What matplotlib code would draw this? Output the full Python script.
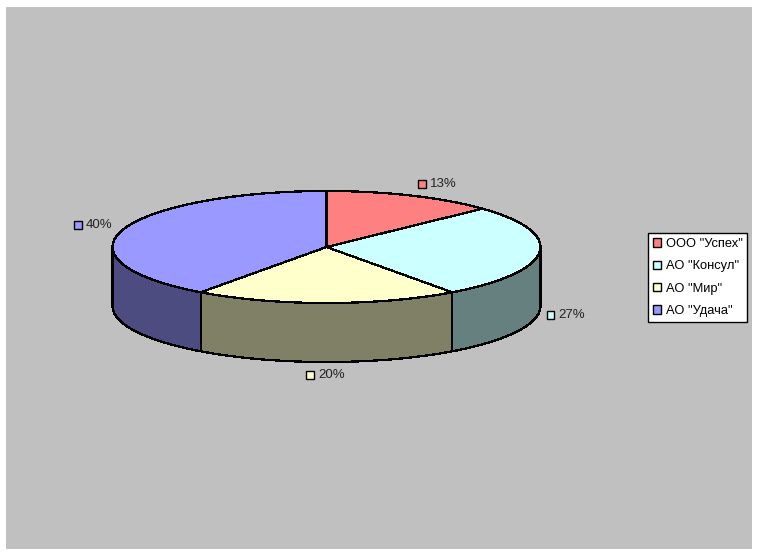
import numpy as np
import matplotlib
matplotlib.use("Agg")
import matplotlib.pyplot as plt
from matplotlib.patches import Rectangle

plt.rcParams['font.family'] = ['Liberation Sans', 'DejaVu Sans']

# Данные
names = ['ООО "Успех"', 'АО "Консул"', 'АО "Мир"', 'АО "Удача"']
percents = [13, 27, 20, 40]
top_colors = ['#FF8080', '#CCFFFF', '#FFFFCC', '#9999FF']
side_colors = ['#804040', '#668080', '#808066', '#4C4C80']

# Геометрия диска в пикселях картинки
cx, cy = 326.5, 247
rx, ry = 214, 56
depth = 59

# Подписи: положение квадратика
label_xy = [(421.5, 183.5), (550, 314.5), (309.5, 374.5), (77.5, 224.5)]


def rim(a, b):
    # a, b - углы по часовой стрелке от верха, градусы
    t = np.radians(np.linspace(a, b, 120))
    return cx + rx * np.sin(t), cy - ry * np.cos(t)


fig = plt.figure(figsize=(7.58, 5.54), dpi=100, facecolor='white')
ax = fig.add_axes([0, 0, 1, 1])
ax.set_xlim(0, 758)
ax.set_ylim(554, 0)
ax.axis('off')

ax.add_patch(Rectangle((6, 7), 746, 541.5, facecolor='#C0C0C0', edgecolor='none', zorder=0))

edges = np.cumsum([0] + percents) * 3.6

# Боковая стенка - только передняя половина
for i in range(len(percents)):
    a = max(edges[i], 90)
    b = min(edges[i + 1], 270)
    if a >= b:
        continue
    x, y = rim(a, b)
    ax.fill(np.r_[x, x[::-1]], np.r_[y, y[::-1] + depth], facecolor=side_colors[i],
            edgecolor='black', linewidth=0.9, antialiased=False, zorder=2)

# Верх диска
for i in range(len(percents)):
    x, y = rim(edges[i], edges[i + 1])
    ax.fill(np.r_[cx, x], np.r_[cy, y], facecolor=top_colors[i],
            edgecolor='black', linewidth=0.9, antialiased=False, zorder=3)

# Подписи процентов
for i in range(len(percents)):
    lx, ly = label_xy[i]
    ax.add_patch(Rectangle((lx - 3.5, ly - 3.5), 7.5, 7.5, facecolor=top_colors[i],
                           edgecolor='black', linewidth=1, zorder=4))
    ax.text(lx + 8.5, ly + 0.5, '%d%%' % percents[i], fontsize=9.5, color='#222222',
            va='center', ha='left', zorder=4)

# Легенда
handles = [Rectangle((0, 0), 1, 1, facecolor=c, edgecolor='black', linewidth=1) for c in top_colors]
leg = ax.legend(handles, names, loc='upper left', bbox_to_anchor=(648 / 758, 1 - 233 / 554),
                bbox_transform=fig.transFigure, borderaxespad=0, fontsize=9.3, fancybox=False,
                framealpha=1, facecolor='white', edgecolor='black', handlelength=0.62,
                handleheight=0.62, handletextpad=0.36, labelspacing=0.8, borderpad=0.38)
leg.get_frame().set_linewidth(1)

fig.savefig('out.png', dpi=100)
